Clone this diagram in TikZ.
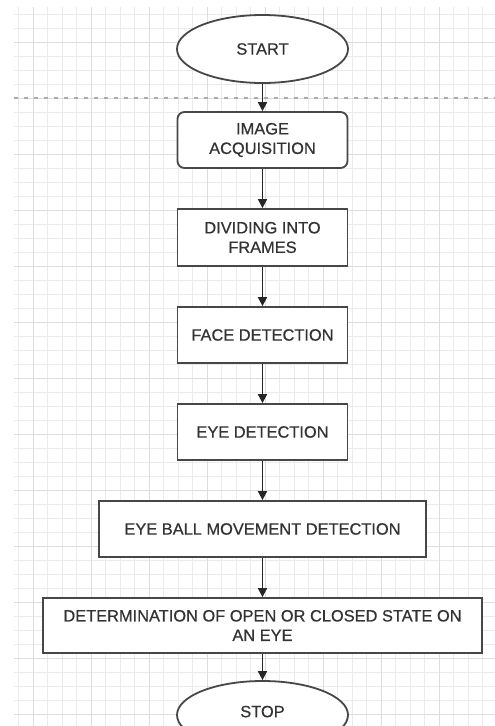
\documentclass[tikz,border=0pt]{standalone}
\usepackage{fontspec}
\setmainfont{Liberation Sans}
\newfontfamily\flowfont[FakeBold=0.6]{Liberation Sans}
\usetikzlibrary{shapes.geometric,arrows.meta}
\definecolor{boxc}{HTML}{474747}
\definecolor{txtc}{HTML}{333333}
\definecolor{gridminor}{HTML}{EBEBEB}
\definecolor{gridmajor}{HTML}{DDDDDD}
\definecolor{pagebreak}{HTML}{ABABAB}
\tikzset{
  flowbox/.style={draw=boxc, line width=1.8pt, fill=white, text=txtc,
    inner sep=0pt, align=center, minimum height=56pt,
    font=\flowfont\fontsize{16.4}{19.5}\selectfont},
  procbox/.style={flowbox, rectangle, minimum width=170pt},
  roundbox/.style={flowbox, rectangle, rounded corners=7pt, minimum width=170pt},
  termbox/.style={flowbox, ellipse, minimum width=171pt, minimum height=68pt},
  flowarrow/.style={draw=black!85, line width=1.7pt, -{Triangle[width=9pt,length=9pt]}},
}
\begin{document}
\begin{tikzpicture}[x=1pt,y=-1pt]
\useasboundingbox (0,0) rectangle (495,726);
\clip (0,0) rectangle (495,726);
\fill[white] (0,0) rectangle (495,726);
% grid
\begin{scope}
\clip (14,7) rectangle (495,726);
\foreach \k in {-1,...,32} {
  \pgfmathsetmacro{\xx}{33+14.5*\k}
  \draw[gridminor, line width=0.8pt] (\xx,7) -- (\xx,726);
}
\foreach \k in {-3,...,50} {
  \pgfmathsetmacro{\yy}{42+14*\k}
  \draw[gridminor, line width=0.8pt] (14,\yy) -- (495,\yy);
}
\foreach \k in {0,...,8} {
  \pgfmathsetmacro{\xx}{33+58*\k}
  \draw[gridmajor, line width=0.9pt] (\xx,7) -- (\xx,726);
}
\foreach \k in {0,...,12} {
  \pgfmathsetmacro{\yy}{42+56*\k}
  \draw[gridmajor, line width=0.9pt] (14,\yy) -- (495,\yy);
}
\end{scope}
% page break line
\draw[pagebreak, line width=1.2pt, dash pattern=on 4pt off 6pt] (14,98) -- (495,98);
% nodes
\node[termbox] (start) at (262.5,49) {START};
\node[roundbox] (acq) at (262.5,140) {IMAGE\\ACQUISITION};
\node[procbox, minimum height=57pt] (div) at (262.5,237.5) {DIVIDING INTO\\FRAMES};
\node[procbox] (face) at (262.5,335) {FACE DETECTION};
\node[procbox] (eyed) at (262.5,432) {EYE DETECTION};
\node[procbox, minimum width=327pt] (ball) at (262.5,529) {EYE BALL MOVEMENT DETECTION};
\node[procbox, minimum width=439pt, minimum height=55pt] (det) at (262.5,625.5) {DETERMINATION OF OPEN OR CLOSED STATE ON\\AN EYE};
\node[termbox] (stop) at (262.5,715) {\raisebox{7pt}{STOP}};
% connectors
\draw[flowarrow] (start) -- (acq);
\draw[flowarrow] (acq) -- (div);
\draw[flowarrow] (div) -- (face);
\draw[flowarrow] (face) -- (eyed);
\draw[flowarrow] (eyed) -- (ball);
\draw[flowarrow] (ball) -- (det);
\draw[flowarrow] (det) -- (stop);
\end{tikzpicture}
\end{document}
